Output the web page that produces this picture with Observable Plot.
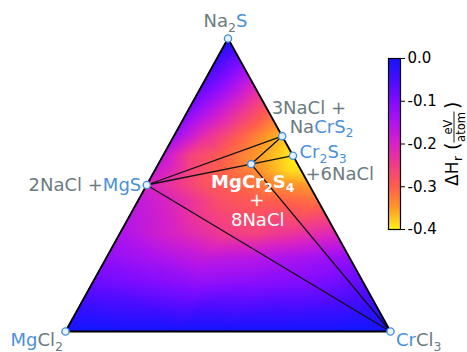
<!DOCTYPE html>
<html><head><meta charset="utf-8">
<script src="https://cdn.jsdelivr.net/npm/d3@7"></script>
<script src="https://cdn.jsdelivr.net/npm/@observablehq/plot@0.6"></script>
<style>
body{margin:0;background:#fff;}
#wrap{position:relative;width:467px;height:352px;font-family:"DejaVu Sans";}
#wrap svg{position:absolute;left:0;top:0;}
</style></head><body><div id="wrap"></div>
<script>
// ---- phases (ternary fractions: Na2S, CrCl3; MgCl2 = rest) ----
const phaseNames = ["Na2S", "MgCl2", "CrCl3", "MgS", "NaCrS2", "Cr2S3", "MgCr2S4"];
const phaseNa2S  = [1, 0, 0, 0.5, 2/3, 0.6, 4/7];
const phaseCrCl3 = [0, 0, 1, 0, 1/3, 0.4, 2/7];

// ---- triangle edges and tie lines ----
const edgeFrom = ["Na2S", "MgCl2", "CrCl3"];
const edgeTo   = ["MgCl2", "CrCl3", "Na2S"];
const tieFrom = ["MgS", "MgS", "MgS", "NaCrS2", "Cr2S3", "MgCr2S4"];
const tieTo   = ["NaCrS2", "MgCr2S4", "CrCl3", "MgCr2S4", "MgCr2S4", "CrCl3"];

// ---- reaction enthalpy read at sample compositions (eV/atom) ----
const anchorNa2S = [
  1, 0, 0, 0, 0, 0, 0, 0,
  1/12, 1/12, 1/12, 1/12, 1/12, 1/12,
  1/6, 1/6, 1/6, 1/6, 1/6, 1/6,
  0.25, 0.25, 0.25, 0.25, 0.25, 0.25,
  1/3, 1/3, 1/3, 1/3, 1/3, 1/3,
  0.45, 0.45, 0.45, 0.45, 0.45, 0.45,
  0.5, 0.5, 0.5, 0.5, 0.5, 0.5, 0.5,
  0.55, 0.55, 0.55, 0.55, 0.55, 0.55,
  4/7,
  0.6, 0.6, 0.6, 0.6, 0.6, 0.6,
  2/3, 2/3, 2/3, 2/3, 2/3,
  0.75, 0.75, 0.75, 0.75,
  5/6, 5/6, 5/6,
  0.92, 0.92, 0.92
];
const anchorCrCl3 = [
  0, 0, 1, 1/6, 1/3, 1/2, 2/3, 5/6,
  0, 0.2, 0.4, 0.6, 0.8, 11/12,
  0, 0.166, 0.331, 0.5, 0.667, 0.833,
  0, 0.136, 0.29, 0.444, 0.598, 0.75,
  0, 0.167, 0.334, 0.424, 0.502, 2/3,
  0, 0.128, 0.251, 0.374, 0.497, 0.55,
  0, 0.088, 0.168, 0.257, 0.334, 0.411, 0.5,
  0, 0.109, 0.232, 0.355, 0.416, 0.45,
  2/7,
  0, 0.084, 0.185, 0.268, 0.361, 0.4,
  0, 0.1025, 0.204, 0.287, 1/3,
  0, 1/12, 1/6, 0.25,
  0, 1/12, 1/6,
  0, 0.04, 0.08
];
const anchorDH = [
  0, 0, 0, 0, 0, 0, 0, 0,
  -0.03, -0.045, -0.05, -0.048, -0.042, -0.03,
  -0.08, -0.10, -0.12, -0.11, -0.10, -0.07,
  -0.12, -0.14, -0.17, -0.16, -0.14, -0.12,
  -0.15, -0.20, -0.25, -0.26, -0.24, -0.21,
  -0.17, -0.22, -0.28, -0.30, -0.31, -0.32,
  -0.20, -0.24, -0.28, -0.30, -0.32, -0.34, -0.35,
  -0.18, -0.26, -0.31, -0.36, -0.39, -0.39,
  -0.34,
  -0.17, -0.26, -0.30, -0.34, -0.38, -0.40,
  -0.13, -0.23, -0.30, -0.35, -0.37,
  -0.10, -0.17, -0.24, -0.30,
  -0.07, -0.13, -0.21,
  -0.04, -0.07, -0.10
];

// ---- colour bar ----
const cbTicks = [0, -0.1, -0.2, -0.3, -0.4];
const cbStops = [-0.4, -0.35, -0.3, -0.25, -0.2, -0.15, -0.1, -0.05, 0];
const cbColors = ["#fff01a", "#ff9a28", "#ff5e4c", "#f23c8a", "#d822c4", "#b014ec", "#800cff", "#4a0cff", "#1414ff"];

// ternary -> cartesian (MgCl2 at 0,0 ; CrCl3 at 1,0 ; Na2S at 0.5,1)
const toX = (a, c) => c + a / 2;
const toY = (a) => a;

const phases = phaseNames.map((n, i) => ({name: n, X: toX(phaseNa2S[i], phaseCrCl3[i]), Y: toY(phaseNa2S[i])}));
const byName = Object.fromEntries(phases.map(p => [p.name, p]));
const seg = (from, to) => from.map((f, i) => ({x1: byName[f].X, y1: byName[f].Y, x2: byName[to[i]].X, y2: byName[to[i]].Y}));
const edges = seg(edgeFrom, edgeTo);
const ties = seg(tieFrom, tieTo);
const anchors = anchorDH.map((v, i) => ({X: toX(anchorNa2S[i], anchorCrCl3[i]), Y: toY(anchorNa2S[i]), v}));

const colorScale = {type: "linear", domain: cbStops, range: cbColors, interpolate: "rgb", clamp: true};
const FONT = "DejaVu Sans";

const chart = Plot.plot({
  width: 467, height: 352,
  marginLeft: 0, marginRight: 0, marginTop: 0, marginBottom: 0,
  x: {domain: [-65/325, 402/325], axis: null},
  y: {domain: [-21/293, 331/293], axis: null},
  color: colorScale,
  style: {background: "transparent", fontFamily: FONT},
  marks: [
    Plot.raster(anchors, {x: "X", y: "Y", fill: "v", interpolate: "barycentric", x1: 0, x2: 1, y1: 0, y2: 1}),
    Plot.areaX([{y: -0.02, x1: -0.03, x2: -0.01}, {y: 1.02, x1: -0.03, x2: 0.51}], {y: "y", x1: "x1", x2: "x2", fill: "white"}),
    Plot.areaX([{y: -0.02, x1: 1.01, x2: 1.03}, {y: 1.02, x1: 0.49, x2: 1.03}], {y: "y", x1: "x1", x2: "x2", fill: "white"}),
    Plot.link(ties, {x1: "x1", y1: "y1", x2: "x2", y2: "y2", stroke: "#111", strokeWidth: 1.3}),
    Plot.link(edges, {x1: "x1", y1: "y1", x2: "x2", y2: "y2", stroke: "#000", strokeWidth: 1.8, strokeLinecap: "round"}),
    Plot.dot(phases, {x: "X", y: "Y", r: 3.6, fill: "#e6f1fc", stroke: "#4a90d9", strokeWidth: 1.4})
  ]
});

const cb = Plot.plot({
  width: 467, height: 352,
  marginLeft: 388, marginRight: 67, marginTop: 58, marginBottom: 123,
  x: {domain: [0, 1], axis: null},
  y: {domain: [-0.4, 0], axis: "right", ticks: cbTicks, tickSize: 4, tickPadding: 3,
      tickFormat: d => d.toFixed(1).replace("\u2212", "-"), label: null},
  color: colorScale,
  style: {background: "transparent", fontFamily: FONT, fontSize: "15px", color: "black"},
  marks: [
    Plot.raster({fill: (x, y) => y, x1: 0, x2: 1, y1: -0.4, y2: 0}),
    Plot.frame({stroke: "#000", strokeWidth: 1.2})
  ]
});

const wrap = document.getElementById("wrap");
wrap.appendChild(chart);
wrap.appendChild(cb);

// ---- labels (third element "s" marks a subscript) ----
const GREY = "#6b7b7f", BLUE = "#4a90d9";
const sx = chart.scale("x"), sy = chart.scale("y");
const pos = n => [sx.apply(byName[n].X), sy.apply(byName[n].Y)];
const labels = [
  {at: "Na2S", dx: -2, dy: -11, anchor: "middle", parts: [["Na", GREY], ["2", GREY, "s"], ["S", BLUE]]},
  {at: "MgCl2", dx: -2, dy: 15, anchor: "end", parts: [["Mg", BLUE], ["Cl", GREY], ["2", GREY, "s"]]},
  {at: "CrCl3", dx: 6, dy: 15, anchor: "start", parts: [["Cr", BLUE], ["Cl", GREY], ["3", GREY, "s"]]},
  {at: "MgS", dx: -5, dy: 6, anchor: "end", parts: [["2NaCl +", GREY], ["MgS", BLUE]]},
  {at: "NaCrS2", dx: -10, dy: -22, anchor: "start", parts: [["3NaCl +", GREY]]},
  {at: "NaCrS2", dx: 8, dy: -3, anchor: "start", parts: [["Na", GREY], ["CrS", BLUE], ["2", BLUE, "s"]]},
  {at: "Cr2S3", dx: 7, dy: 3, anchor: "start", parts: [["Cr", BLUE], ["2", BLUE, "s"], ["S", BLUE], ["3", BLUE, "s"]]},
  {at: "Cr2S3", dx: 13, dy: 25, anchor: "start", parts: [["+6NaCl", GREY]]},
  {at: "MgCr2S4", dx: 2, dy: 24, anchor: "middle", bold: true, parts: [["MgCr", "white"], ["2", "white", "s"], ["S", "white"], ["4", "white", "s"]]},
  {at: "MgCr2S4", dx: 6, dy: 42, anchor: "middle", parts: [["+", "white"]]},
  {at: "MgCr2S4", dx: 7, dy: 62, anchor: "middle", parts: [["8NaCl", "white"]]}
];
const svg = d3.select(chart);
for (const L of labels) {
  const [x, y] = pos(L.at);
  const t = svg.append("text")
    .attr("x", x + L.dx).attr("y", y + L.dy)
    .attr("text-anchor", L.anchor)
    .attr("font-family", FONT).attr("font-size", 18)
    .attr("font-weight", L.bold ? "bold" : "normal");
  let shifted = false;
  for (const [s, c, sub] of L.parts) {
    const ts = t.append("tspan").attr("fill", c).text(s);
    if (sub && !shifted) { ts.attr("dy", 4.5).attr("font-size", 12.5); shifted = true; }
    else if (sub) { ts.attr("font-size", 12.5); }
    else if (shifted) { ts.attr("dy", -4.5); shifted = false; }
  }
}

// ---- colour bar label: ΔH_r (eV/atom), rotated ----
const cbsvg = d3.select(cb);
const g = cbsvg.append("g").attr("transform", "translate(458,186) rotate(-90)")
  .attr("font-family", FONT).attr("fill", "black").attr("text-anchor", "start");
g.append("text").attr("x", 0).attr("y", 0).attr("font-size", 17).text("\u0394H");
g.append("text").attr("x", 25).attr("y", 3.8).attr("font-size", 12).text("r");
g.append("text").attr("x", 36).attr("y", 0.5).attr("font-size", 19).text("(");
g.append("text").attr("x", 59).attr("y", -6.5).attr("font-size", 11.5).attr("text-anchor", "middle").text("eV");
g.append("line").attr("x1", 43.5).attr("x2", 74.5).attr("y1", -4).attr("y2", -4).attr("stroke", "black").attr("stroke-width", 0.9);
g.append("text").attr("x", 59).attr("y", 6.5).attr("font-size", 11.5).attr("text-anchor", "middle").text("atom");
g.append("text").attr("x", 77).attr("y", 0.5).attr("font-size", 19).text(")");
</script></body></html>
